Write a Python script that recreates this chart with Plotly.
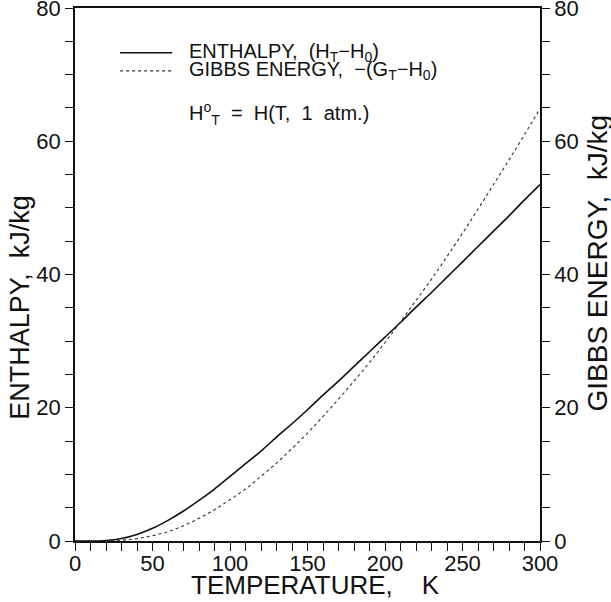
import plotly.graph_objects as go

# ── Data ────────────────────────────────────────────────────────────────────
temperature_k = [0, 10, 20, 30, 40, 50, 60, 70, 80, 90, 100, 110, 120, 130, 140,
                 150, 160, 170, 180, 190, 200, 210, 220, 230, 240, 250, 260,
                 270, 280, 290, 300]
enthalpy_kj_kg = [0.0, 0.0, 0.08, 0.38, 0.98, 1.9, 3.1, 4.5, 6.1, 7.8, 9.7,
                  11.6, 13.5, 15.6, 17.6, 19.7, 21.9, 24.0, 26.2, 28.4, 30.6,
                  32.8, 35.1, 37.3, 39.6, 41.9, 44.2, 46.5, 48.8, 51.2, 53.5]
gibbs_kj_kg = [0.0, 0.0, 0.03, 0.12, 0.36, 0.8, 1.4, 2.3, 3.4, 4.7, 6.2,
               7.8, 9.7, 11.7, 13.9, 16.2, 18.7, 21.3, 24.0, 26.8, 29.8,
               32.9, 36.1, 39.3, 42.7, 46.2, 49.8, 53.5, 57.2, 61.0, 64.9]

series_names = ["ENTHALPY,&nbsp;&nbsp;(H<sub>T</sub>−H<sub>0</sub>)",
                "GIBBS ENERGY,&nbsp;&nbsp;−(G<sub>T</sub>−H<sub>0</sub>)"]

FONT = "Liberation Sans, Arial, sans-serif"
INK = "#111111"
STYLES = [dict(color=INK, width=1.6),
          dict(color="#333333", width=1.1, dash="dot")]

fig = go.Figure()
for ys, name, style in zip([enthalpy_kj_kg, gibbs_kj_kg], series_names, STYLES):
    fig.add_trace(go.Scatter(
        x=temperature_k, y=ys, mode="lines", line_shape="spline",
        line=style, name=name, showlegend=False,
    ))
# invisible trace just to carry the right-hand axis
fig.add_trace(go.Scatter(x=[0], y=[0], yaxis="y2", mode="markers",
                         marker=dict(opacity=0), showlegend=False,
                         hoverinfo="skip"))

axis_common = dict(
    showgrid=False, zeroline=False, showline=True, linecolor=INK, linewidth=1.6,
    ticks="outside", ticklen=8, tickwidth=1.3, tickcolor=INK, automargin=False,
    ticklabeloverflow="allow",
    tickfont=dict(family=FONT, size=22, color=INK),
)

fig.update_layout(
    width=611, height=602,
    margin=dict(l=75, r=71, t=8, b=61),
    plot_bgcolor="white", paper_bgcolor="white",
    font=dict(family=FONT, color=INK),
    showlegend=False,
    xaxis=dict(
        **axis_common, range=[0, 300], dtick=50, mirror=True,
        ticklabelstandoff=-6,
        minor=dict(dtick=10, ticks="outside", ticklen=8, tickcolor=INK),
    ),
    yaxis=dict(
        **axis_common, range=[0, 80], dtick=20,
        minor=dict(dtick=5, ticks="outside", ticklen=8, tickcolor=INK),
    ),
    yaxis2=dict(
        **axis_common, range=[0, 80], dtick=20, overlaying="y", side="right",
        minor=dict(dtick=5, ticks="outside", ticklen=8, tickcolor=INK),
    ),
)

# ── Key (drawn in paper space, top-left of the plot) ────────────────────────
key_rows_y = [0.916, 0.882]
for ky, name, style in zip(key_rows_y, series_names, STYLES):
    fig.add_shape(type="line", xref="paper", yref="paper",
                  x0=0.097, x1=0.209, y0=ky, y1=ky, line=style)
    fig.add_annotation(xref="paper", yref="paper", x=0.241, y=ky,
                       xanchor="left", yanchor="middle", text=name,
                       showarrow=False, font=dict(family=FONT, size=20, color=INK))
fig.add_annotation(
    xref="paper", yref="paper", x=0.241, y=0.803, xanchor="left",
    yanchor="middle",
    text="H<sup>o</sup><sub>T</sub>&nbsp;&nbsp;=&nbsp;&nbsp;H(T,&nbsp;&nbsp;1&nbsp;&nbsp;atm.)",
    showarrow=False, font=dict(family=FONT, size=20, color=INK),
)

# ── Axis titles ─────────────────────────────────────────────────────────────
fig.add_annotation(
    xref="paper", yref="paper", x=0.518, y=-0.082, xanchor="center",
    yanchor="middle", text="TEMPERATURE,&nbsp;&nbsp;&nbsp;&nbsp;K",
    showarrow=False, font=dict(family=FONT, size=26, color=INK),
)
fig.add_annotation(
    xref="paper", yref="paper", x=-0.12, y=0.438, xanchor="center",
    yanchor="middle", textangle=-90, text="ENTHALPY,&nbsp;&nbsp;kJ/kg",
    showarrow=False, font=dict(family=FONT, size=27, color=INK),
)
fig.add_annotation(
    xref="paper", yref="paper", x=1.123, y=0.521, xanchor="center",
    yanchor="middle", textangle=-90, text="GIBBS ENERGY,&nbsp;&nbsp;kJ/kg",
    showarrow=False, font=dict(family=FONT, size=28, color=INK),
)

fig.write_html("out.html", config={"displayModeBar": False},
               post_script="document.body.style.margin='0';")
